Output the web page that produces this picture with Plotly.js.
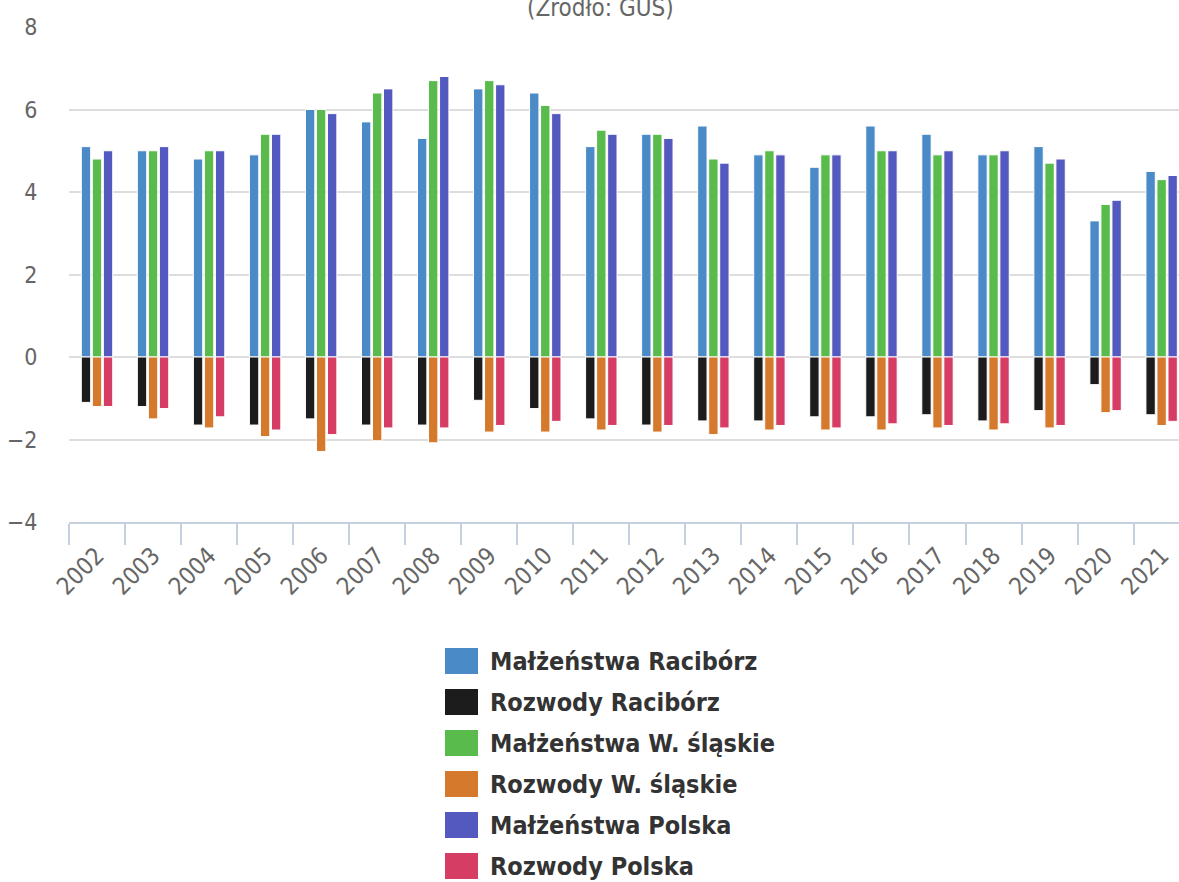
<!DOCTYPE html>
<html>
<head>
<meta charset="utf-8">
<script src="https://cdn.plot.ly/plotly-3.0.1.min.js"></script>
<style>
  html, body { margin: 0; padding: 0; background: #ffffff; }
  #chart { width: 1179px; height: 882px; }
</style>
</head>
<body>
<div id="chart"></div>
<script>
// ---- data ----
const years = ['2002','2003','2004','2005','2006','2007','2008','2009','2010','2011',
               '2012','2013','2014','2015','2016','2017','2018','2019','2020','2021'];
const malzRaciborz = [5.1, 5.0, 4.8, 4.9, 6.0, 5.7, 5.3, 6.5, 6.4, 5.1, 5.4, 5.6, 4.9, 4.6, 5.6, 5.4, 4.9, 5.1, 3.3, 4.5];
const rozwRaciborz = [-1.1, -1.2, -1.65, -1.65, -1.5, -1.65, -1.65, -1.05, -1.25, -1.5, -1.65, -1.55, -1.55, -1.45, -1.45, -1.4, -1.55, -1.3, -0.67, -1.4];
const malzSlaskie  = [4.8, 5.0, 5.0, 5.4, 6.0, 6.4, 6.7, 6.7, 6.1, 5.5, 5.4, 4.8, 5.0, 4.9, 5.0, 4.9, 4.9, 4.7, 3.7, 4.3];
const rozwSlaskie  = [-1.2, -1.5, -1.72, -1.93, -2.29, -2.03, -2.08, -1.82, -1.82, -1.77, -1.82, -1.88, -1.77, -1.77, -1.77, -1.72, -1.77, -1.72, -1.35, -1.66];
const malzPolska   = [5.0, 5.1, 5.0, 5.4, 5.9, 6.5, 6.8, 6.6, 5.9, 5.4, 5.3, 4.7, 4.9, 4.9, 5.0, 5.0, 5.0, 4.8, 3.8, 4.4];
const rozwPolska   = [-1.2, -1.25, -1.45, -1.77, -1.88, -1.72, -1.72, -1.66, -1.56, -1.66, -1.66, -1.72, -1.66, -1.72, -1.62, -1.66, -1.62, -1.66, -1.3, -1.56];
const seriesNames = ['Małżeństwa Racibórz', 'Rozwody Racibórz', 'Małżeństwa W. śląskie',
                     'Rozwody W. śląskie', 'Małżeństwa Polska', 'Rozwody Polska'];
const sourceText = '(Źródło: GUS)';
const yTicks = [-4, -2, 0, 2, 4, 6, 8];

// ---- styling ----
const colors = ['#4a8ac6', '#1c1c1c', '#58bb4c', '#d5792c', '#5459bf', '#d63d64'];
const groups = ['a', 'a', 'b', 'b', 'c', 'c'];
const values = [malzRaciborz, rozwRaciborz, malzSlaskie, rozwSlaskie, malzPolska, rozwPolska];

const W = 1179, H = 882;
const M = { l: 69, r: 0, t: 27, b: 360 };
const plotW = W - M.l - M.r, plotH = H - M.t - M.b;
const px2x = x => (x - M.l) / plotW;
const px2y = y => 1 - (y - M.t) / plotH;

const traces = values.map((v, i) => ({
  type: 'bar',
  x: years,
  y: v,
  name: seriesNames[i],
  offsetgroup: groups[i],
  marker: { color: colors[i], line: { color: '#ffffff', width: 1 } },
  showlegend: false,
  hoverinfo: 'x+y+name'
}));

const shapes = [];
const annotations = [];
// custom legend (large swatches like the reference)
seriesNames.forEach((n, i) => {
  const cy = 661 + 41 * i;
  shapes.push({
    type: 'rect', xref: 'paper', yref: 'paper',
    x0: px2x(445), x1: px2x(478), y0: px2y(cy - 13), y1: px2y(cy + 13),
    fillcolor: colors[i], line: { width: 0 }
  });
  annotations.push({
    xref: 'paper', yref: 'paper', x: px2x(488), y: px2y(cy),
    xanchor: 'left', yanchor: 'middle', showarrow: false,
    text: '<b>' + n + '</b>',
    font: { family: 'DejaVu Sans Condensed, DejaVu Sans, sans-serif', size: 25, color: '#333333' }
  });
});
// source subtitle (near the top edge, as in the reference)
annotations.push({
  xref: 'paper', yref: 'paper', x: px2x(600), y: px2y(8),
  xanchor: 'center', yanchor: 'middle', showarrow: false,
  text: sourceText,
  font: { family: 'DejaVu Sans Condensed, DejaVu Sans, sans-serif', size: 24, color: '#666666' }
});

const layout = {
  width: W, height: H,
  margin: M,
  paper_bgcolor: '#ffffff', plot_bgcolor: '#ffffff',
  barmode: 'group',
  bargap: 0.41,
  bargroupgap: 0.15,
  showlegend: false,
  font: { family: 'DejaVu Sans Condensed, DejaVu Sans, sans-serif', color: '#666666' },
  xaxis: {
    type: 'category',
    range: [-0.5, 19.31],
    tickson: 'boundaries',
    ticks: 'outside', ticklen: 21, tickwidth: 2, tickcolor: '#c4d0de',
    ticklabelstandoff: 8,
    showline: true, linecolor: '#c4d0de', linewidth: 2,
    showgrid: false,
    tickangle: -45,
    tickfont: { size: 24, color: '#666666' },
    fixedrange: true
  },
  yaxis: {
    range: [-4, 8],
    tickvals: yTicks,
    ticks: 'outside', ticklen: 26, tickcolor: 'rgba(0,0,0,0)',
    showgrid: true, gridcolor: '#dddddd', gridwidth: 2,
    zeroline: true, zerolinecolor: '#dddddd', zerolinewidth: 2,
    showline: false,
    tickfont: { size: 23, color: '#666666' },
    fixedrange: true
  },
  shapes: shapes,
  annotations: annotations
};

Plotly.newPlot('chart', traces, layout, { displayModeBar: false, staticPlot: true });
</script>
</body>
</html>
